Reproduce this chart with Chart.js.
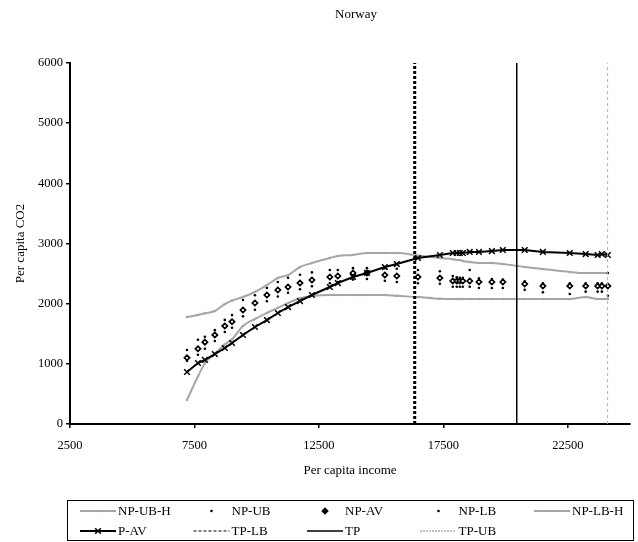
<!DOCTYPE html>
<html>
<head>
<meta charset="utf-8">
<title>Norway</title>
<script src="https://cdn.jsdelivr.net/npm/chart.js@4"></script>
<style>
  html, body { margin: 0; padding: 0; background: #fff; }
</style>
</head>
<body>
<canvas id="norwayChart" width="638" height="542"></canvas>
<script>
// values
const income = [7200, 7640, 7920, 8320, 8720, 9010, 9450, 9930, 10410, 10850, 11260, 11740, 12220, 12940, 13260, 13870, 14430, 15150, 15630, 16480, 17360, 17880, 18040, 18160, 18280, 18560, 18930, 19450, 19890, 20770, 21500, 22580, 23220, 23700, 23870, 24110];

const npUbH = [1778, 1811, 1840, 1878, 1994, 2050, 2111, 2194, 2310, 2427, 2476, 2609, 2676, 2759, 2792, 2809, 2842, 2842, 2842, 2800, 2759, 2740, 2726, 2726, 2710, 2692, 2676, 2676, 2659, 2609, 2576, 2526, 2510, 2510, 2510, 2510];
const npUb = [1230, 1400, 1450, 1560, 1730, 1810, 2060, 2140, 2260, 2360, 2430, 2480, 2520, 2560, 2560, 2590, 2590, 2590, 2580, 2560, 2540, 2460, 2440, 2430, 2430, 2560, 2420, 2410, 2400, 2370, 2340, 2340, 2340, 2340, 2340, 2510];
const npAv = [1100, 1250, 1360, 1480, 1630, 1700, 1895, 2011, 2144, 2227, 2277, 2343, 2393, 2443, 2460, 2510, 2510, 2476, 2460, 2443, 2426, 2377, 2377, 2377, 2377, 2377, 2360, 2360, 2360, 2327, 2293, 2293, 2293, 2293, 2293, 2293];
const npLb = [1050, 1150, 1250, 1380, 1530, 1600, 1790, 1900, 2040, 2120, 2180, 2240, 2290, 2340, 2360, 2400, 2410, 2380, 2360, 2340, 2330, 2280, 2280, 2280, 2280, 2280, 2260, 2260, 2260, 2230, 2190, 2160, 2200, 2200, 2200, 2130];
const npLbH = [400, 790, 1010, 1170, 1320, 1410, 1630, 1745, 1845, 1930, 2010, 2090, 2127, 2144, 2144, 2144, 2144, 2144, 2130, 2110, 2080, 2077, 2077, 2077, 2077, 2077, 2077, 2077, 2077, 2077, 2077, 2077, 2110, 2077, 2077, 2077];
const pAv = [864, 1014, 1064, 1163, 1263, 1346, 1479, 1612, 1728, 1845, 1944, 2044, 2144, 2277, 2343, 2443, 2510, 2609, 2659, 2759, 2809, 2842, 2842, 2842, 2842, 2859, 2859, 2875, 2892, 2892, 2859, 2842, 2825, 2809, 2825, 2809];

// turning points (income)
const tpLb = 16350;
const tp = 20450;
const tpUb = 24100;

const xTicks = [2500, 7500, 12500, 17500, 22500];
const yTicks = [0, 1000, 2000, 3000, 4000, 5000, 6000];

const serif = '"Liberation Serif", "Times New Roman", serif';
Chart.defaults.font.family = serif;
Chart.defaults.color = '#000';

function pts(ys) {
    return income.map((x, i) => ({ x: x, y: ys[i] }));
}
function vline(x) {
    return [{ x: x, y: yTicks[0] }, { x: x, y: yTicks[yTicks.length - 1] }];
}

const grey = '#a6a6a6';

const datasets = [
    { label: 'NP-UB-H', data: pts(npUbH), showLine: true, borderColor: grey, backgroundColor: grey, borderWidth: 2,
      pointStyle: 'rect', pointRadius: 1.6, pointBorderWidth: 0, cubicInterpolationMode: 'monotone' },
    { label: 'NP-UB', data: pts(npUb), showLine: false, borderColor: '#000', backgroundColor: '#000',
      pointStyle: 'circle', pointRadius: 1.3, pointBorderWidth: 0 },
    { label: 'NP-AV', data: pts(npAv), showLine: false, borderColor: '#000', backgroundColor: '#fff',
      pointStyle: 'rectRot', pointRadius: 2.6, pointBorderWidth: 1.7 },
    { label: 'NP-LB', data: pts(npLb), showLine: false, borderColor: '#000', backgroundColor: '#000',
      pointStyle: 'circle', pointRadius: 1.3, pointBorderWidth: 0 },
    { label: 'NP-LB-H', data: pts(npLbH), showLine: true, borderColor: grey, backgroundColor: grey, borderWidth: 2,
      pointStyle: 'rect', pointRadius: 1.6, pointBorderWidth: 0, cubicInterpolationMode: 'monotone' },
    { label: 'P-AV', data: pts(pAv), showLine: true, borderColor: '#000', backgroundColor: '#000', borderWidth: 2,
      pointStyle: 'crossRot', pointRadius: 4, pointBorderWidth: 1.5 },
    { label: 'TP-LB', data: vline(tpLb), showLine: true, borderColor: '#000', borderWidth: 3, borderDash: [3, 2],
      pointRadius: 0 },
    { label: 'TP', data: vline(tp), showLine: true, borderColor: '#000', borderWidth: 1.5, pointRadius: 0 },
    { label: 'TP-UB', data: vline(tpUb), showLine: true, borderColor: '#b0b0b0', borderWidth: 1, borderDash: [3, 3],
      pointRadius: 0 }
];
// later series sit on top, like the original
datasets.forEach((d, i) => { d.order = datasets.length - i; });

// legend samples for the turning point lines are drawn thin
const legendDash = { 'TP-LB': [3, 2], 'TP-UB': [1, 2] };
// legend diamond is drawn solid
const legendFill = { 'NP-AV': '#000' };

const frame = {
    id: 'frame',
    afterDraw(chart) {
        const ctx = chart.ctx;
        const area = chart.chartArea;
        ctx.save();

        // title
        ctx.fillStyle = '#000';
        ctx.font = '13px ' + serif;
        ctx.textAlign = 'center';
        ctx.textBaseline = 'middle';
        ctx.fillText('Norway', (area.left + area.right) / 2 + 6, 15);

        // legend box
        ctx.strokeStyle = '#000';
        ctx.lineWidth = 1;
        ctx.setLineDash([]);
        ctx.strokeRect(67.5, 500.5, 566, 40);

        const rowY = [511, 531];
        chart.data.datasets.forEach((d, i) => {
            const row = i < 5 ? 0 : 1;
            const col = i % 5;
            const sx = 80 + col * 113.5;
            const y = rowY[row];
            if (d.showLine) {
                ctx.beginPath();
                ctx.strokeStyle = legendDash[d.label] ? '#000' : d.borderColor;
                ctx.lineWidth = legendDash[d.label] ? 1 : Math.min(d.borderWidth, 2);
                ctx.setLineDash(legendDash[d.label] || []);
                ctx.moveTo(sx, y);
                ctx.lineTo(sx + 36, y);
                ctx.stroke();
                ctx.setLineDash([]);
            }
            if (d.pointRadius > 0) {
                ctx.fillStyle = legendFill[d.label] || d.backgroundColor;
                ctx.strokeStyle = d.borderColor;
                ctx.lineWidth = d.pointBorderWidth;
                Chart.helpers.drawPoint(ctx, {
                    pointStyle: d.pointStyle,
                    radius: d.pointRadius,
                    borderWidth: d.pointBorderWidth,
                    rotation: 0
                }, sx + 18, y);
            }
            ctx.fillStyle = '#000';
            ctx.font = '13px ' + serif;
            ctx.textAlign = 'left';
            ctx.textBaseline = 'middle';
            ctx.fillText(d.label, sx + 38, y + 1);
        });
        ctx.restore();
    }
};

const tickFont = { family: serif, size: 12.5 };
const titleFont = { family: serif, size: 13 };

new Chart(document.getElementById('norwayChart'), {
    type: 'scatter',
    data: { datasets: datasets },
    options: {
        responsive: false,
        animation: false,
        events: [],
        layout: { padding: { top: 63, left: 0, right: 8, bottom: 64 } },
        plugins: {
            legend: { display: false },
            title: { display: false },
            tooltip: { enabled: false }
        },
        scales: {
            x: {
                type: 'linear',
                min: 2500,
                max: 25000,
                afterBuildTicks: axis => { axis.ticks = xTicks.map(v => ({ value: v })); },
                afterFit: scale => { scale.height = 54; },
                grid: { drawOnChartArea: false, drawTicks: true, tickLength: 4, color: '#000', lineWidth: 1.5 },
                border: { display: true, color: '#000', width: 2 },
                ticks: { color: '#000', font: tickFont, padding: 10, maxRotation: 0, autoSkip: false,
                         callback: v => String(v) },
                title: { display: true, text: 'Per capita income', color: '#000', font: titleFont,
                         padding: { top: 0, bottom: 0 } }
            },
            y: {
                type: 'linear',
                min: 0,
                max: 6000,
                afterBuildTicks: axis => { axis.ticks = yTicks.map(v => ({ value: v })); },
                afterFit: scale => { scale.width = 70; },
                grid: { drawOnChartArea: false, drawTicks: true, tickLength: 4, color: '#000', lineWidth: 1.5 },
                border: { display: true, color: '#000', width: 2 },
                ticks: { color: '#000', font: tickFont, padding: 3, callback: v => String(v) },
                title: { display: true, text: 'Per capita CO2', color: '#000', font: titleFont,
                         padding: { top: 13, bottom: 0 } }
            }
        }
    },
    plugins: [frame]
});
</script>
</body>
</html>
